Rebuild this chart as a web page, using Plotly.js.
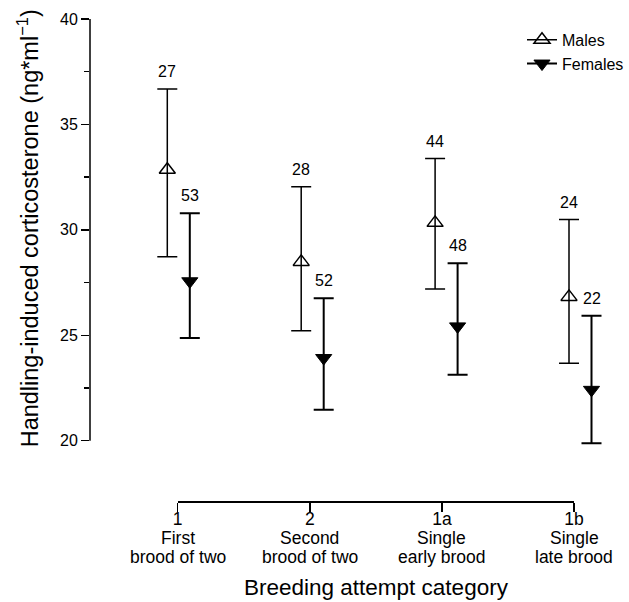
<!DOCTYPE html>
<html>
<head>
<meta charset="utf-8">
<script src="https://cdn.plot.ly/plotly-3.0.1.min.js"></script>
<style>html,body{margin:0;padding:0;background:#fff;}#chart{width:629px;height:602px;}</style>
</head>
<body>
<div id="chart"></div>
<script>
const categories = ['1', '2', '1a', '1b'];
const catLine1 = ['First', 'Second', 'Single', 'Single'];
const catLine2 = ['brood of two', 'brood of two', 'early brood', 'late brood'];
const maleMean = [32.85, 28.48, 30.33, 26.82];
const maleUpper = [36.68, 32.04, 33.38, 30.49];
const maleLower = [28.72, 25.21, 27.19, 23.67];
const femaleMean = [27.56, 23.92, 25.42, 22.41];
const femaleUpper = [30.79, 26.76, 28.42, 25.92];
const femaleLower = [24.87, 21.47, 23.13, 19.88];
const maleN = [27, 28, 44, 24];
const femaleN = [53, 52, 48, 22];
const yTicks = [20, 25, 30, 35, 40];
const yMinorTicks = [22.5, 27.5, 32.5, 37.5];

const FONT = 'Arial, "Liberation Sans", sans-serif';
const femaleOffset = 0.168;

function sep(arr) { const out = []; arr.forEach((v, i) => { if (i) out.push(null); out.push(v); }); return out; }

const idx = categories.map((c, i) => i + 1);
const mx = idx, fx = idx.map(v => v + femaleOffset);

const males = {
  type: 'scatter', mode: 'lines+markers', name: 'Males',
  xaxis: 'x2', yaxis: 'y',
  x: sep(mx), y: sep(maleMean),
  line: {color: '#000', width: 1.5},
  marker: {symbol: 'triangle-up-open', size: 14, color: '#000', line: {color: '#000', width: 1.5}},
  error_y: {type: 'data', symmetric: false,
    array: sep(maleUpper.map((u, i) => u - maleMean[i])),
    arrayminus: sep(maleLower.map((l, i) => maleMean[i] - l)),
    color: '#000', thickness: 1.5, width: 10},
  cliponaxis: false, hoverinfo: 'skip'
};
const females = {
  type: 'scatter', mode: 'lines+markers', name: 'Females',
  xaxis: 'x2', yaxis: 'y',
  x: sep(fx), y: sep(femaleMean),
  line: {color: '#000', width: 2},
  marker: {symbol: 'triangle-down', size: 14, color: '#000', line: {color: '#000', width: 1}},
  error_y: {type: 'data', symmetric: false,
    array: sep(femaleUpper.map((u, i) => u - femaleMean[i])),
    arrayminus: sep(femaleMean.map((m, i) => m - femaleLower[i])),
    color: '#000', thickness: 2, width: 10},
  cliponaxis: false, hoverinfo: 'skip'
};
const dummy = {type: 'scatter', mode: 'markers', x: [1, 4], y: [null, null], xaxis: 'x', yaxis: 'y', showlegend: false, hoverinfo: 'skip'};

const annotations = [];
maleN.forEach((n, i) => annotations.push({xref: 'x2', yref: 'y', x: mx[i], y: maleUpper[i], text: String(n), showarrow: false, yanchor: 'bottom', yshift: 7, font: {family: FONT, size: 16, color: '#000'}}));
femaleN.forEach((n, i) => annotations.push({xref: 'x2', yref: 'y', x: fx[i], y: femaleUpper[i], text: String(n), showarrow: false, yanchor: 'bottom', yshift: 7, font: {family: FONT, size: 16, color: '#000'}}));
catLine1.forEach((t, i) => annotations.push({xref: 'x', yref: 'paper', x: idx[i], y: 0, text: t, showarrow: false, yanchor: 'middle', yshift: -37, font: {family: FONT, size: 17.5, color: '#000'}}));
catLine2.forEach((t, i) => annotations.push({xref: 'x', yref: 'paper', x: idx[i], y: 0, text: t, showarrow: false, yanchor: 'middle', yshift: -56, font: {family: FONT, size: 17.5, color: '#000'}}));
annotations.push({xref: 'paper', yref: 'paper', x: (376 - 90) / 539, y: 0, text: 'Breeding attempt category', showarrow: false, yanchor: 'middle', yshift: -86, font: {family: FONT, size: 22.5, color: '#000'}});
annotations.push({xref: 'paper', yref: 'paper', x: (28 - 90) / 539, y: (501 - 228.5) / 481.7, text: 'Handling-induced corticosterone (ng*ml<sup>−1</sup>)', textangle: -90, showarrow: false, xanchor: 'center', yanchor: 'middle', font: {family: FONT, size: 23.5, color: '#000'}});

const yMin = yTicks[0], yMax = yTicks[yTicks.length - 1];
const layout = {
  width: 629, height: 602,
  margin: {l: 90, r: 0, t: 19.3, b: 101, pad: 0},
  paper_bgcolor: '#fff', plot_bgcolor: '#fff',
  font: {family: FONT, color: '#000'},
  showlegend: true,
  legend: {x: 1, y: 0.992, xanchor: 'right', yanchor: 'top', bgcolor: 'rgba(0,0,0,0)', borderwidth: 0, font: {family: FONT, size: 16, color: '#000'}, tracegroupgap: 0, itemwidth: 30},
  xaxis: {domain: [(177.7 - 90) / 539, (574 - 90) / 539], anchor: 'free', position: 0, range: [1, 4],
    tickvals: idx, ticktext: categories, showline: true, linecolor: '#000', linewidth: 1.5,
    ticks: 'outside', ticklen: 9, tickwidth: 1.5, tickcolor: '#000', showgrid: false, zeroline: false,
    ticklabelstandoff: -8,
    tickfont: {family: FONT, size: 17.5, color: '#000'}},
  xaxis2: {domain: [0, 1], anchor: 'y', range: [0.4227, 1 + (629 - 167.3) / 133.9], visible: false, showgrid: false, zeroline: false},
  yaxis: {domain: [0, 1], anchor: 'x2', range: [yMin - 60.3 / 21.07, yMax],
    tickmode: 'array', tickvals: yTicks,
    showline: false, ticks: 'outside', ticklen: 8, tickwidth: 1.5, tickcolor: '#000',
    minor: {tickmode: 'array', tickvals: yMinorTicks, ticks: 'outside', ticklen: 5, tickwidth: 1.5, tickcolor: '#000', showgrid: false},
    showgrid: false, zeroline: false, tickfont: {family: FONT, size: 16, color: '#000'}},
  shapes: [{type: 'line', xref: 'paper', yref: 'y', x0: 0, x1: 0, y0: yMin, y1: yMax, line: {color: '#000', width: 1.5}}],
  annotations: annotations
};

Plotly.newPlot('chart', [males, females, dummy], layout, {displayModeBar: false, staticPlot: true});
</script>
</body>
</html>
